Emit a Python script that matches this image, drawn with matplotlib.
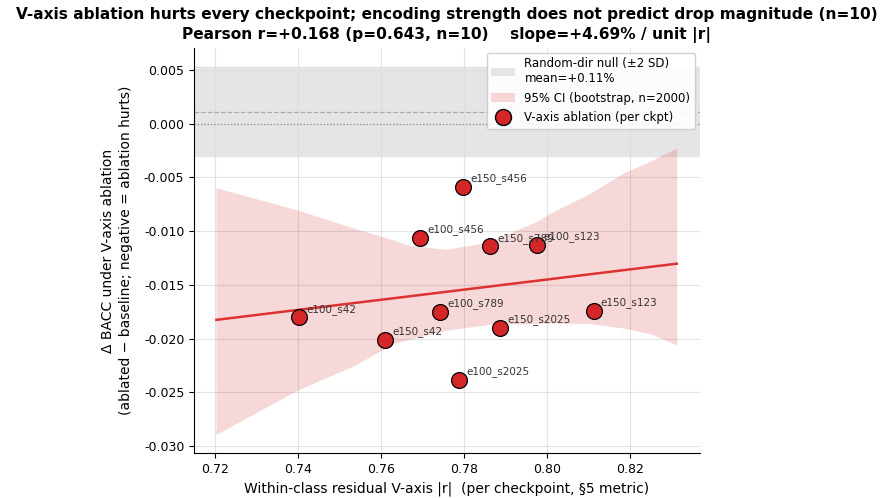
import numpy as np
import matplotlib
matplotlib.use("Agg")
import matplotlib.pyplot as plt
from matplotlib.patches import Patch
from matplotlib.lines import Line2D

labels = ["e100_s42", "e150_s42", "e100_s456", "e100_s789", "e150_s456",
          "e100_s2025", "e150_s789", "e150_s2025", "e100_s123", "e150_s123"]
v_axis_r = [0.7403, 0.7610, 0.7694, 0.7742, 0.7798, 0.7788, 0.7863, 0.7888, 0.7975, 0.8113]
delta_bacc = [-0.0180, -0.0201, -0.0106, -0.0175, -0.0059, -0.0238, -0.0114, -0.0190, -0.0113, -0.0174]

ci_x = [0.7202, 0.7398, 0.7535, 0.7631, 0.7662, 0.7758, 0.7863, 0.7983, 0.8007, 0.8104, 0.8183, 0.8255, 0.8313]
ci_upper = [-0.00596, -0.00803, -0.00974, -0.01083, -0.01129, -0.01169, -0.01098, -0.00896, -0.00834, -0.00648, -0.00462, -0.00338, -0.00226]
ci_lower = [-0.02891, -0.02479, -0.02250, -0.02044, -0.02013, -0.01920, -0.01867, -0.01858, -0.01855, -0.01860, -0.01900, -0.01960, -0.02060]

null_mean = 0.0011
null_lo = -0.0030
null_hi = 0.0053

x = np.array(v_axis_r)
y = np.array(delta_bacc)
slope, intercept = np.polyfit(x, y, 1)
xg = np.linspace(x.min() - 0.02, x.max() + 0.02, 100)

fig = plt.figure(figsize=(8.86, 4.98), dpi=100)
ax = fig.add_axes([0.219, 0.090, 0.571, 0.814])

ax.axhspan(null_lo, null_hi, color="#e5e5e5", zorder=0)
ax.axhline(null_mean, color="#aaaaaa", ls="--", lw=0.9, zorder=1)
ax.axhline(0, color="#888888", ls=":", lw=0.9, zorder=1)

ax.fill_between(ci_x, ci_lower, ci_upper, color="#d62728", alpha=0.18, lw=0, zorder=2)
ax.plot(xg, slope * xg + intercept, color="#dc3232", lw=1.8, zorder=3)
ax.scatter(x, y, s=130, color="#d62728", edgecolor="black", linewidth=0.9, zorder=4)
for lx, ly, lab in zip(x, y, labels):
    ax.annotate(lab, (lx, ly), xytext=(5, 4), textcoords="offset points",
                fontsize=7.5, color="#333333", zorder=5)

ax.set_xlim(0.7149, 0.8369)
ax.set_ylim(-0.03065, 0.00705)
ax.set_xticks([0.72, 0.74, 0.76, 0.78, 0.80, 0.82])
ax.set_yticks([0.005, 0.0, -0.005, -0.010, -0.015, -0.020, -0.025, -0.030])
ax.yaxis.set_major_formatter(matplotlib.ticker.FormatStrFormatter("%.3f"))
ax.xaxis.set_major_formatter(matplotlib.ticker.FormatStrFormatter("%.2f"))
ax.tick_params(labelsize=9)
ax.grid(True, color="#dddddd", lw=0.8, alpha=0.8, zorder=0)
ax.set_axisbelow(True)
for s in ["top", "right"]:
    ax.spines[s].set_visible(False)

ax.set_xlabel("Within-class residual V-axis |r|  (per checkpoint, §5 metric)", fontsize=10)
ax.set_ylabel("Δ BACC under V-axis ablation\n(ablated − baseline; negative = ablation hurts)",
              fontsize=10, linespacing=1.35, labelpad=8)
ax.set_title("V-axis ablation hurts every checkpoint; encoding strength does not predict drop magnitude (n=10)\n"
             "Pearson r=+0.168 (p=0.643, n=10)    slope=+4.69% / unit |r|",
             fontsize=11.1, fontweight="bold", pad=6, linespacing=1.45)

handles = [Patch(facecolor="#e5e5e5", edgecolor="none", label="Random-dir null (±2 SD)\nmean=+0.11%"),
           Patch(facecolor="#d62728", alpha=0.18, edgecolor="none", label="95% CI (bootstrap, n=2000)"),
           Line2D([], [], marker="o", ls="none", markersize=11.5, markerfacecolor="#d62728",
                  markeredgecolor="black", label="V-axis ablation (per ckpt)")]
ax.legend(handles=handles, loc="upper right", fontsize=8.5, framealpha=0.9,
          labelspacing=0.55, borderaxespad=0.4)

fig.savefig("out.png", dpi=100)
